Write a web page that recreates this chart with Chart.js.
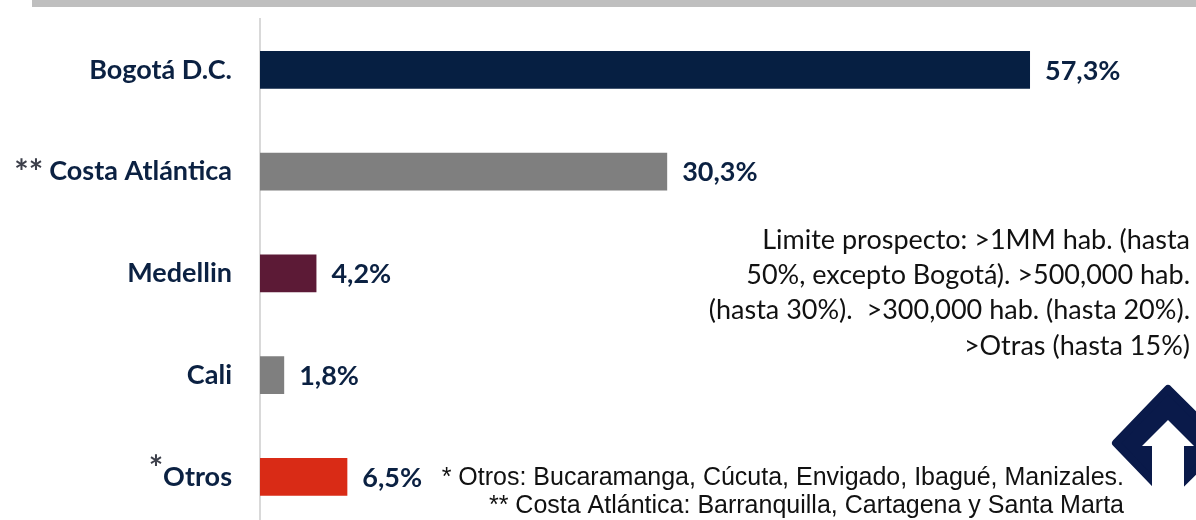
<!DOCTYPE html>
<html>
<head>
<meta charset="utf-8">
<script src="https://cdn.jsdelivr.net/npm/chart.js@4.4.1/dist/chart.umd.min.js"></script>
<style>
  html, body { margin: 0; padding: 0; background: #fff; }
  body { width: 1196px; height: 520px; overflow: hidden; position: relative; }
  .wrap { position: absolute; left: 0; top: 0; width: 1196px; height: 540px; }
  .topbar { position: absolute; left: 32px; top: 0; width: 1164px; height: 7px; background: #bfbfbf; }
</style>
</head>
<body>
<div class="wrap"><canvas id="chart" width="1196" height="540"></canvas></div>
<div class="topbar"></div>
<script>
const categories = ["Bogotá D.C.", "Costa Atlántica", "Medellin", "Cali", "Otros"];
const shares = [57.3, 30.3, 4.2, 1.8, 6.5];
const barColors = ["#061f42", "#7f7f7f", "#5c1a36", "#7f7f7f", "#d92b16"];
const labelMarks = ["", "**", "", "", "*"];

const noteLines = [
  "Limite prospecto: >1MM hab. (hasta",
  "50%, excepto Bogotá). >500,000 hab.",
  "(hasta 30%).  >300,000 hab. (hasta 20%).",
  ">Otras (hasta 15%)"
];
const footLines = [
  "* Otros: Bucaramanga, Cúcuta, Envigado, Ibagué, Manizales.",
  "** Costa Atlántica: Barranquilla, Cartagena y Santa Marta"
];

const NAVY = "#0b2142";
const LABEL_FONT = "bold 27px Lato";

/* ---------- HELPERS ---------- */

function fmtPct(v) {
  return v.toFixed(1).replace(".", ",") + "%";
}

/* ---------- PLUGIN: VALUE LABELS + MARKS ---------- */

const barLabels = {
  id: "barLabels",
  afterDatasetsDraw(chart) {
    const { ctx } = chart;
    const meta = chart.getDatasetMeta(0);
    const yScale = chart.scales.y;
    ctx.save();
    ctx.font = LABEL_FONT;
    ctx.fillStyle = NAVY;
    ctx.textAlign = "left";
    ctx.textBaseline = "middle";
    meta.data.forEach((bar, i) => {
      ctx.fillText(fmtPct(shares[i]), bar.x + 15, bar.y + 1);
    });

    // asterisks in front of category names
    ctx.fillStyle = "#3c3f4a";
    ctx.textAlign = "right";
    ctx.textBaseline = "alphabetic";
    labelMarks.forEach((m, i) => {
      if (!m) return;
      ctx.font = LABEL_FONT;
      const w = ctx.measureText(categories[i]).width;
      const left = yScale.right - 28 - w;
      const y = yScale.getPixelForValue(i);
      ctx.font = "bold 34px Lato";
      if (m === "**") ctx.fillText(m, left - 6, y + 12);
      else ctx.fillText(m, left, y + 3);
    });
    ctx.restore();
  }
};

/* ---------- PLUGIN: NOTES + LOGO ---------- */

const notes = {
  id: "notes",
  afterDraw(chart) {
    const { ctx } = chart;
    ctx.save();
    ctx.fillStyle = "#111";
    ctx.textAlign = "right";
    ctx.textBaseline = "middle";
    ctx.font = "27px Lato";
    noteLines.forEach((t, i) => ctx.fillText(t, 1190, 240 + i * 35.3));

    ctx.font = "25px 'Liberation Sans'";
    footLines.forEach((t, i) => ctx.fillText(t, 1124, 478 + i * 28));

    // logo
    ctx.fillStyle = "#0a1a4a";
    ctx.strokeStyle = "#0a1a4a";
    ctx.lineWidth = 8;
    ctx.lineJoin = "round";
    ctx.beginPath();
    ctx.moveTo(1168, 389);
    ctx.lineTo(1222, 443);
    ctx.lineTo(1168, 497);
    ctx.lineTo(1116, 443);
    ctx.closePath();
    ctx.fill();
    ctx.stroke();
    ctx.fillStyle = "#fff";
    ctx.beginPath();
    ctx.moveTo(1168, 420);
    ctx.lineTo(1194, 446);
    ctx.lineTo(1184, 446);
    ctx.lineTo(1184, 520);
    ctx.lineTo(1152, 520);
    ctx.lineTo(1152, 446);
    ctx.lineTo(1142, 446);
    ctx.closePath();
    ctx.fill();
    ctx.restore();
  }
};

/* ---------- CHART ---------- */

new Chart(document.getElementById("chart"), {
  type: "bar",
  data: {
    labels: categories,
    datasets: [{
      data: shares,
      backgroundColor: barColors,
      borderWidth: 0,
      barPercentage: 0.373,
      categoryPercentage: 1
    }]
  },
  options: {
    indexAxis: "y",
    responsive: false,
    animation: false,
    layout: { padding: { left: 0, right: 129.7, top: 19, bottom: 12.25 } },
    plugins: { legend: { display: false }, tooltip: { enabled: false } },
    scales: {
      x: { display: false, min: 0, max: 60 },
      y: {
        grid: { display: false, drawTicks: false },
        border: { display: true, color: "#d9d9d9", width: 2 },
        ticks: { color: NAVY, font: { family: "Lato", size: 27, weight: "bold" }, padding: 28 },
        afterFit(scale) {
          scale.width = 260;
          scale.paddingTop = 0;
          scale.paddingBottom = 0;
        }
      }
    }
  },
  plugins: [barLabels, notes]
});
</script>
</body>
</html>
